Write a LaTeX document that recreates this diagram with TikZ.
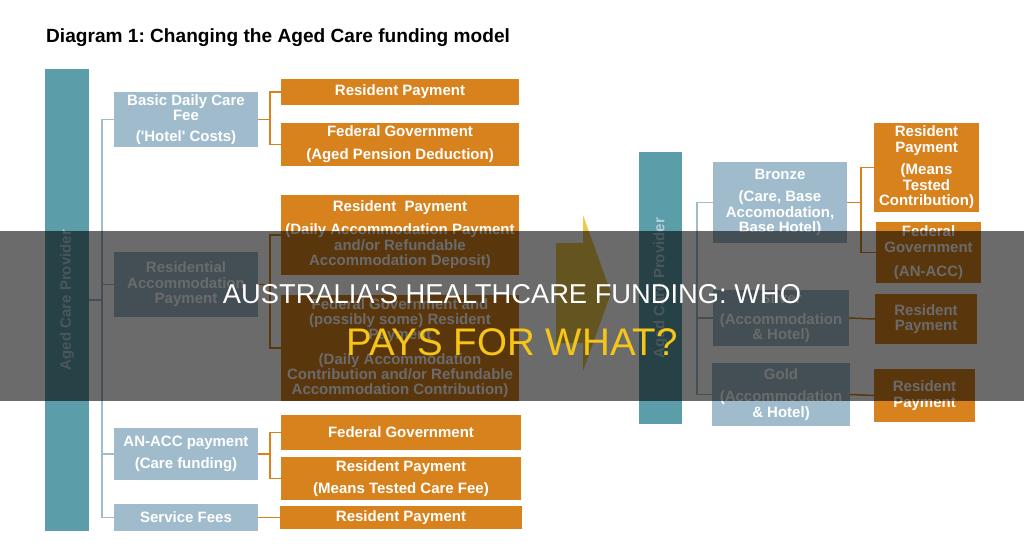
\documentclass[tikz,border=0pt]{standalone}
\usepackage{fontspec}
\setmainfont{Liberation Sans}
\frenchspacing
\newcommand{\myfs}[2]{\fontsize{#1}{#2}\selectfont}
\definecolor{teal0}{HTML}{5B9EAA}
\definecolor{lblue}{HTML}{A0BCCC}
\definecolor{orng}{HTML}{D8821E}
\definecolor{gold}{HTML}{F0C94C}
\definecolor{ytxt}{HTML}{F5C518}
\definecolor{bartxt}{HTML}{B5CED8}
\begin{document}
\begin{tikzpicture}[x=1pt,y=-1pt,
  barbox/.style={fill=teal0, draw=none, inner sep=0pt},
  bartext/.style={rotate=90, text=bartxt, inner sep=0pt, font=\myfs{15}{15}\bfseries},
  bbox/.style={fill=lblue, text=white, inner sep=0pt, align=center, font=\myfs{15}{15.5}\bfseries},
  obox/.style={fill=orng, text=white, inner sep=0pt, align=center, font=\myfs{15}{15.5}\bfseries},
  bline/.style={draw=lblue, line width=1.5pt},
  oline/.style={draw=orng, line width=1.5pt},
]
\useasboundingbox (0,0) rectangle (1024,558);
\fill[white] (0,0) rectangle (1024,558);

% title
\node[anchor=base west, inner sep=0pt, font=\myfs{19.1}{19.1}\bfseries] (title) at (46,42) {Diagram 1: Changing the Aged Care funding model};

% ---------- left model ----------
\node[barbox, minimum width=44pt, minimum height=462pt] (barL) at (67,300) {};
\node[bartext] (tL) at (67,300) {Aged Care Provider};

\node[bbox, minimum width=144pt, minimum height=55pt] (bBasic) at (186,119.5) {Basic Daily Care\\Fee\\[5.5pt](\textquotesingle Hotel\textquotesingle\ Costs)};
\node[bbox, minimum width=144pt, minimum height=65pt] (bRes) at (186,284.5) {Residential\\Accommodation\\Payment};
\node[bbox, minimum width=144pt, minimum height=52pt] (bAN) at (186,454) {AN-ACC payment\\[6.5pt](Care funding)};
\node[bbox, minimum width=144pt, minimum height=27pt] (bSvc) at (186,517.5) {Service Fees};

\node[obox, minimum width=238pt, minimum height=26pt] (o1) at (400,92) {Resident Payment};
\node[obox, minimum width=238pt, minimum height=43pt] (o2) at (400,144.5) {Federal Government\\[7.5pt](Aged Pension Deduction)};
\node[obox, minimum width=238pt, minimum height=80pt] (o3) at (400,235) {Resident~ Payment\\[7.5pt](Daily Accommodation Payment\\and/or Refundable\\Accommodation Deposit)};
\node[obox, minimum width=238pt, minimum height=106pt, font=\myfs{15}{15}\bfseries] (o4) at (400,348) {Federal Government and\\(possibly some) Resident\\Payment\\[10pt](Daily Accommodation\\Contribution and/or Refundable\\Accommodation Contribution)};
\node[obox, minimum width=240pt, minimum height=35pt] (o5) at (401,432.5) {Federal Government};
\node[obox, minimum width=240pt, minimum height=43pt] (o6) at (401,478.5) {Resident Payment\\[6.5pt](Means Tested Care Fee)};
\node[obox, minimum width=242pt, minimum height=23pt] (o7) at (401,517.5) {Resident Payment};

\draw[bline] (bBasic.west) -- ++(-12,0) coordinate (sL) |- (bSvc.west);
\draw[bline] (bRes.west) -- (bRes.west -| sL);
\draw[bline] (bAN.west) -- (bAN.west -| sL);
\draw[bline] (barL.east) -- (barL.east -| sL);

\draw[oline] (o1.west) -- ++(-11,0) coordinate (k1) |- (o2.west);
\draw[oline] (bBasic.east) -- (bBasic.east -| k1);
\draw[oline] (o3.west) -- ++(-11,0) coordinate (k2) |- (o4.west);
\draw[oline] (bRes.east) -- (bRes.east -| k2);
\draw[oline] (o5.west) -- ++(-11,0) coordinate (k3) |- (o6.west);
\draw[oline] (bAN.east) -- (bAN.east -| k3);
\draw[oline] (bSvc.east) -- (o7.west);

% ---------- arrow ----------
\fill[gold] (556,243) -- (583,243) -- (583,215) -- (611,293) -- (583,371) -- (583,343) -- (556,343) -- cycle;

% ---------- right model ----------
\node[barbox, minimum width=43pt, minimum height=272pt] (barR) at (660.5,288) {};
\node[bartext] (tR) at (660.5,288) {Aged Care Provider};

\node[bbox, minimum width=134pt, minimum height=81pt] (bBronze) at (780,202.5) {Bronze\\[6.5pt](Care, Base\\Accomodation,\\Base Hotel)};
\node[bbox, minimum width=136pt, minimum height=56pt] (bSilver) at (781,318) {Silver\\[5pt](Accommodation\\\& Hotel)};
\node[bbox, minimum width=138pt, minimum height=63pt] (bGold) at (781,394.5) {Gold\\[6.5pt](Accommodation\\\& Hotel)};

\node[obox, minimum width=105pt, minimum height=89pt] (oR1) at (926.5,167.5) {Resident\\Payment\\[7pt](Means\\Tested\\Contribution)};
\node[obox, minimum width=105pt, minimum height=61pt] (oR2) at (928.5,252.5) {Federal\\Government\\[8.5pt](AN-ACC)};
\node[obox, minimum width=102pt, minimum height=50pt] (oR3) at (926,319) {Resident\\Payment};
\node[obox, minimum width=101pt, minimum height=53pt] (oR4) at (924.5,395.5) {Resident\\Payment};

\draw[bline] (bBronze.west) -- ++(-16,0) coordinate (sR) |- (bGold.west);
\draw[bline] (bSilver.west) -- (bSilver.west -| sR);
\draw[oline] (oR1.west) -- ++(-13,0) coordinate (k4) |- (oR2.west);
\draw[oline] (bBronze.east) -- (bBronze.east -| k4);
\draw[oline] (bSilver.east) -- (oR3.west);
\draw[oline] (bGold.east) -- (oR4.west);

% ---------- overlay banner ----------
\fill[black, opacity=0.58] (0,231) rectangle (1024,401);
\node[anchor=base, inner sep=0pt, text=white, font=\myfs{27.3}{27.3}] (h1) at (512,303) {AUSTRALIA\textquotesingle S HEALTHCARE FUNDING: WHO};
\node[anchor=base, inner sep=0pt, text=ytxt, font=\myfs{38.5}{38.5}] (h2) at (512,355) {PAYS FOR WHAT?};
\end{tikzpicture}
\end{document}
